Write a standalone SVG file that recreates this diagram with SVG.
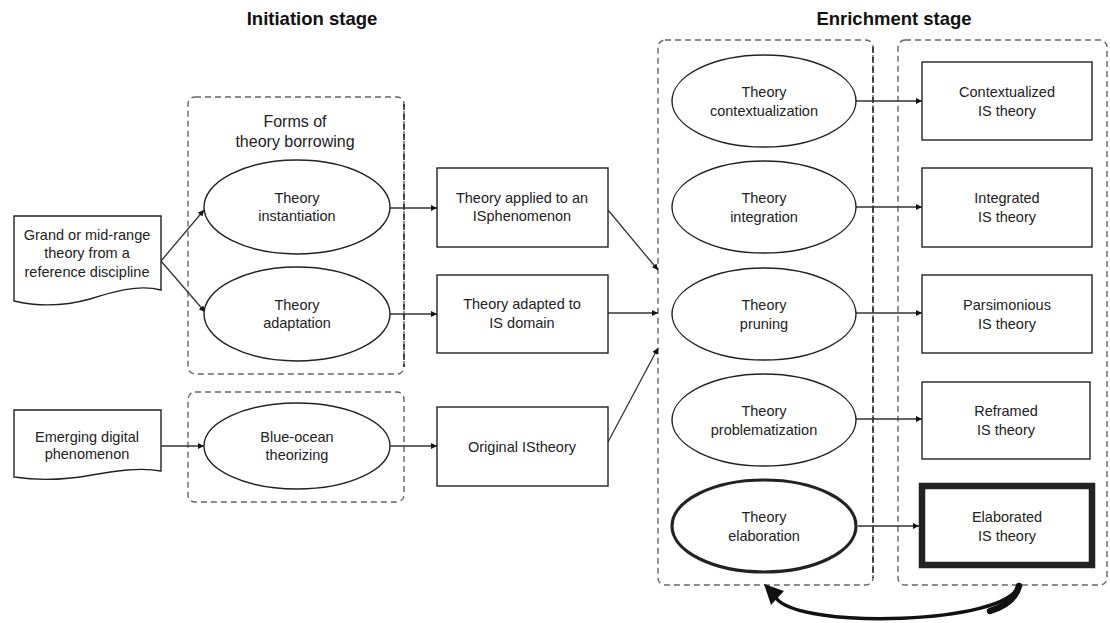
<svg xmlns="http://www.w3.org/2000/svg" width="1110" height="623" viewBox="0 0 1110 623">
<defs>
<style>
text{font-family:"Liberation Sans",Arial,sans-serif;font-size:14.5px;fill:#222;text-anchor:middle}
.title{font-weight:bold;font-size:18.5px;fill:#111}
.head{font-size:16px}
.grp{fill:none;stroke:#666;stroke-width:1.4;stroke-dasharray:6 4}
.edge{fill:none;stroke:#222;stroke-width:1.5;stroke-dasharray:6 4}
.node{fill:#fff;stroke:#222;stroke-width:1.4}
.bold{stroke-width:3.2}
.bolder{stroke-width:6.5}
.conn{fill:none;stroke:#333;stroke-width:1.3}
.loop{fill:none;stroke:#111;stroke-linecap:round}
</style>
<marker id="ah" viewBox="0 0 10 10" refX="10" refY="5" markerWidth="7" markerHeight="6" markerUnits="userSpaceOnUse" orient="auto">
<path d="M0 0L10 5L0 10Z" fill="#111"/>
</marker>
</defs>
<rect width="1110" height="623" fill="#fff"/>

<text class="title" x="312" y="25">Initiation stage</text>
<text class="title" x="894" y="25">Enrichment stage</text>

<g id="groups">
<rect class="grp" x="188" y="97" width="216" height="277" rx="7"/>
<line class="edge" x1="404" y1="104" x2="404" y2="367"/>
<rect class="grp" x="188" y="392" width="216" height="110" rx="7"/>
<rect class="grp" x="658" y="40" width="215" height="545" rx="7"/>
<line class="edge" x1="873" y1="47" x2="873" y2="578"/>
<rect class="grp" x="898" y="40" width="209" height="545" rx="7"/>
</g>

<g id="connectors">
<line class="conn" x1="161" y1="261" x2="204" y2="210" marker-end="url(#ah)"/>
<line class="conn" x1="161" y1="261" x2="205" y2="312" marker-end="url(#ah)"/>
<line class="conn" x1="161" y1="446" x2="204" y2="446" marker-end="url(#ah)"/>
<line class="conn" x1="390" y1="208" x2="437" y2="208" marker-end="url(#ah)"/>
<line class="conn" x1="390" y1="314" x2="437" y2="314" marker-end="url(#ah)"/>
<line class="conn" x1="390" y1="446" x2="437" y2="446" marker-end="url(#ah)"/>
<line class="conn" x1="608" y1="210" x2="658" y2="270" marker-end="url(#ah)"/>
<line class="conn" x1="608" y1="313" x2="658" y2="313" marker-end="url(#ah)"/>
<line class="conn" x1="608" y1="442" x2="658" y2="348" marker-end="url(#ah)"/>
<line class="conn" x1="856" y1="101" x2="922" y2="101" marker-end="url(#ah)"/>
<line class="conn" x1="856" y1="207" x2="922" y2="207" marker-end="url(#ah)"/>
<line class="conn" x1="856" y1="313" x2="922" y2="313" marker-end="url(#ah)"/>
<line class="conn" x1="856" y1="419" x2="922" y2="419" marker-end="url(#ah)"/>
<line class="conn" x1="858" y1="526" x2="919" y2="526" marker-end="url(#ah)"/>
<path class="loop" d="M1018 586 C1008 624 800 630 776 598" stroke-width="3.5"/>
<path class="loop" d="M1019 586 C1016 598 1006 606 990 611" stroke-width="6.5"/>
<path d="M764 584 L784 591 L771 605 Z" fill="#111"/>
</g>

<g id="doc-grand">
<path class="node" d="M14 216 H161 V290 C138 284 112 292 90 299 C65 306 40 307 14 301 Z"/>
<text x="87" y="240">Grand or mid-range</text>
<text x="87" y="258">theory from a</text>
<text x="87" y="277">reference discipline</text>
</g>
<g id="doc-emerging">
<path class="node" d="M14 410 H161 V471 C140 467 115 471 92 475 C65 480 40 481 14 477 Z"/>
<text x="87" y="442">Emerging digital</text>
<text x="87" y="459">phenomenon</text>
</g>

<g id="forms-label">
<text class="head" x="295" y="127">Forms of</text>
<text class="head" x="295" y="147">theory borrowing</text>
</g>

<g id="e-instantiation">
<ellipse class="node" cx="297" cy="207" rx="93" ry="47"/>
<text x="297" y="203">Theory</text>
<text x="297" y="221">instantiation</text>
</g>
<g id="e-adaptation">
<ellipse class="node" cx="297" cy="314" rx="93" ry="47"/>
<text x="297" y="310">Theory</text>
<text x="297" y="328">adaptation</text>
</g>
<g id="e-blueocean">
<ellipse class="node" cx="297" cy="446" rx="93" ry="43"/>
<text x="297" y="442">Blue-ocean</text>
<text x="297" y="460">theorizing</text>
</g>

<g id="b-applied">
<rect class="node" x="437" y="168" width="171" height="79"/>
<text x="522" y="203">Theory applied to an</text>
<text x="522" y="221">ISphenomenon</text>
</g>
<g id="b-adapted">
<rect class="node" x="437" y="275" width="171" height="78"/>
<text x="522" y="309">Theory adapted to</text>
<text x="522" y="328">IS domain</text>
</g>
<g id="b-original">
<rect class="node" x="437" y="407" width="171" height="79"/>
<text x="522" y="452">Original IStheory</text>
</g>

<g id="e-contextualization">
<ellipse class="node" cx="764" cy="101" rx="92" ry="46"/>
<text x="764" y="97">Theory</text>
<text x="764" y="116">contextualization</text>
</g>
<g id="e-integration">
<ellipse class="node" cx="764" cy="207" rx="92" ry="46"/>
<text x="764" y="203">Theory</text>
<text x="764" y="222">integration</text>
</g>
<g id="e-pruning">
<ellipse class="node" cx="764" cy="314" rx="92" ry="46"/>
<text x="764" y="310">Theory</text>
<text x="764" y="329">pruning</text>
</g>
<g id="e-problematization">
<ellipse class="node" cx="764" cy="420" rx="92" ry="46"/>
<text x="764" y="416">Theory</text>
<text x="764" y="435">problematization</text>
</g>
<g id="e-elaboration">
<ellipse class="node bold" cx="764" cy="526" rx="92" ry="46"/>
<text x="764" y="522">Theory</text>
<text x="764" y="541">elaboration</text>
</g>

<g id="b-contextualized">
<rect class="node" x="922" y="62" width="170" height="78"/>
<text x="1007" y="97">Contextualized</text>
<text x="1007" y="116">IS theory</text>
</g>
<g id="b-integrated">
<rect class="node" x="922" y="168" width="170" height="79"/>
<text x="1007" y="203">Integrated</text>
<text x="1007" y="222">IS theory</text>
</g>
<g id="b-parsimonious">
<rect class="node" x="922" y="275" width="170" height="78"/>
<text x="1007" y="310">Parsimonious</text>
<text x="1007" y="329">IS theory</text>
</g>
<g id="b-reframed">
<rect class="node" x="922" y="382" width="168" height="77"/>
<text x="1006" y="416">Reframed</text>
<text x="1006" y="435">IS theory</text>
</g>
<g id="b-elaborated">
<rect class="node bolder" x="922" y="486" width="170" height="79"/>
<text x="1007" y="522">Elaborated</text>
<text x="1007" y="541">IS theory</text>
</g>
</svg>
